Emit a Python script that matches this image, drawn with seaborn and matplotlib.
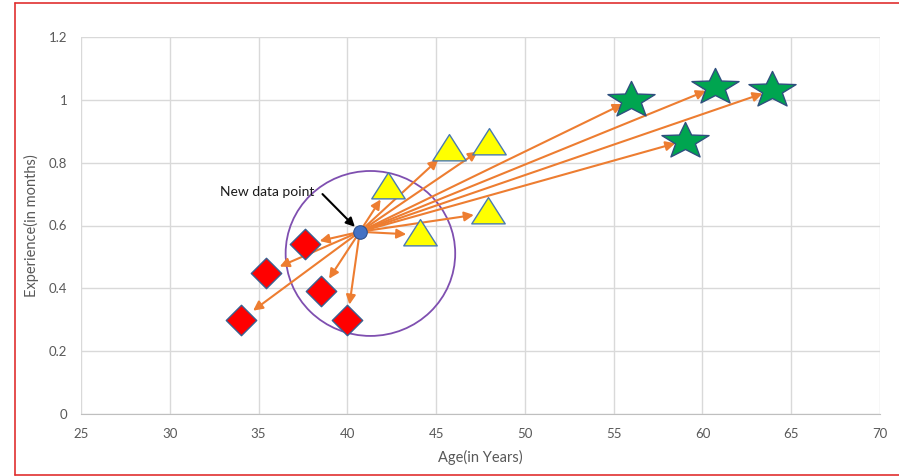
import numpy as np
import pandas as pd
import matplotlib
matplotlib.use("Agg")
import matplotlib.pyplot as plt
from matplotlib.patches import Ellipse
from matplotlib.path import Path
from matplotlib.lines import Line2D
import seaborn as sns

# Class A (red diamonds)
red_age = [34.0, 35.4, 37.6, 38.5, 40.0]
red_exp = [0.30, 0.45, 0.54, 0.39, 0.30]
# Class B (yellow triangles)
yellow_age = [42.3, 45.7, 48.0, 47.9, 44.1]
yellow_exp = [0.72, 0.84, 0.86, 0.64, 0.57]
# Class C (green stars)
green_age = [56.0, 60.7, 63.9, 59.0]
green_exp = [1.00, 1.04, 1.03, 0.87]
# Query point
new_age = [40.7]
new_exp = [0.58]

x_ticks = [25, 30, 35, 40, 45, 50, 55, 60, 65, 70]
y_ticks = [0, 0.2, 0.4, 0.6, 0.8, 1.0, 1.2]
y_tick_labels = ["0", "0.2", "0.4", "0.6", "0.8", "1", "1.2"]

sns.set_style("white")
plt.rcParams["font.family"] = ["Lato", "DejaVu Sans"]

fig = plt.figure(figsize=(8.99, 4.76), dpi=100)
ax = fig.add_axes([81 / 899, 1 - 414 / 476, (880 - 81) / 899, (414 - 37) / 476])

grid_c = "#d9d9d9"
text_c = "#595959"
edge_c = "#3a5f8f"
arrow_c = "#ed7d31"

# wide five-pointed star marker
ang = np.pi / 2 + np.arange(10) * np.pi / 5
rad = np.where(np.arange(10) % 2 == 0, 1.0, 0.42)
star_verts = np.column_stack([1.3 * rad * np.cos(ang), rad * np.sin(ang)])
star_verts = np.vstack([star_verts, star_verts[:1]])
star_marker = Path(star_verts, closed=True)

tri_marker = Path([(-1.0, -0.62), (1.0, -0.62), (0.0, 0.95), (-1.0, -0.62)], closed=True)

# arrows from the query point to every labelled point
for xs, ys, shrink in [(red_age, red_exp, 11), (yellow_age, yellow_exp, 10), (green_age, green_exp, 7)]:
    for xa, ya in zip(xs, ys):
        ax.annotate("", xy=(xa, ya), xytext=(new_age[0], new_exp[0]),
                    arrowprops=dict(arrowstyle="-|>", color=arrow_c, lw=1.5,
                                    mutation_scale=14, shrinkA=0, shrinkB=shrink),
                    zorder=3)

# neighbourhood circle
ax.add_patch(Ellipse((41.3, 0.511), width=9.55, height=0.525, fill=False,
                     edgecolor="#7f4fb0", lw=1.3, zorder=2))

sns.scatterplot(x=red_age, y=red_exp, marker="D", s=240, color="#ff0000",
                edgecolor=edge_c, linewidth=1.0, ax=ax, zorder=4)
sns.scatterplot(x=yellow_age, y=yellow_exp, marker=tri_marker, s=580, color="#ffff00",
                edgecolor="#4a7ab0", linewidth=1.0, ax=ax, zorder=4)
sns.scatterplot(x=green_age, y=green_exp, marker=star_marker, s=1150, color="#00a550",
                edgecolor="#2e4f7e", linewidth=1.0, ax=ax, zorder=4)
sns.scatterplot(x=new_age, y=new_exp, marker="o", s=95, color="#4472c4",
                edgecolor="#2f528f", linewidth=0.8, ax=ax, zorder=5)

# callout label with its pointer
ax.text(32.85, 0.708, "New data point", fontsize=10, color="#1a1a1a",
        va="center", ha="left", zorder=6)
ax.annotate("", xy=(new_age[0], new_exp[0]), xytext=(38.6, 0.70),
            arrowprops=dict(arrowstyle="-|>", color="black", lw=1.5,
                            mutation_scale=13, shrinkA=0, shrinkB=5),
            zorder=6)

ax.set_xlim(25, 70)
ax.set_ylim(0, 1.2)
ax.set_xticks(x_ticks)
ax.set_yticks(y_ticks)
ax.set_yticklabels(y_tick_labels)
ax.grid(True, color=grid_c, lw=1.0)
ax.set_axisbelow(True)
for side in ["top", "right", "left"]:
    ax.spines[side].set_visible(False)
ax.spines["bottom"].set_color("#bfbfbf")
ax.tick_params(axis="both", length=0, labelsize=9.5, colors=text_c, pad=10)
ax.set_xlabel("Age(in Years)", fontsize=10.5, color=text_c, labelpad=7)
ax.set_ylabel("Experience(in months)", fontsize=10.5, color=text_c, labelpad=7)

# outer red frame
red = "#e03030"
fig.add_artist(Line2D([15 / 899, 15 / 899], [1 - 3 / 476, 1 - 475 / 476], transform=fig.transFigure, color=red, lw=1.2))
fig.add_artist(Line2D([15 / 899, 1], [1 - 3 / 476, 1 - 3 / 476], transform=fig.transFigure, color=red, lw=1.2))
fig.add_artist(Line2D([15 / 899, 1], [1 - 475 / 476, 1 - 475 / 476], transform=fig.transFigure, color=red, lw=1.2))

fig.savefig("out.png", dpi=100)
